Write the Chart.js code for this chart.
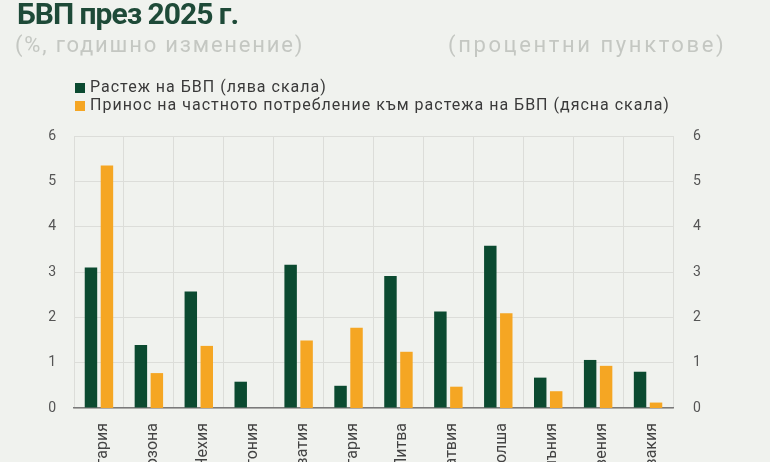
<!DOCTYPE html>
<html lang="bg">
<head>
<meta charset="utf-8">
<script src="https://cdn.jsdelivr.net/npm/chart.js@4.4.1/dist/chart.umd.min.js"></script>
<style>
  html, body { margin: 0; padding: 0; width: 770px; height: 462px; overflow: hidden; background: #f0f2ee; }
  #wrap { position: relative; width: 770px; height: 462px; }
  canvas { position: absolute; left: 0; top: 0; }
  .txt { position: absolute; white-space: nowrap; font-family: Roboto, sans-serif; }
  #title { left: 17px; top: -4px; font-size: 30px; font-weight: 700; color: #1e4a38; letter-spacing: -1px; }
  .sub { top: 32px; font-size: 22px; color: #c4c7c2; }
  #subL { left: 15px; letter-spacing: 1.8px; }
  #subR { left: 448px; letter-spacing: 2.6px; }
  .leg { left: 75px; font-size: 16px; color: #3a3a3a; letter-spacing: 1px; }
  .leg i { display: inline-block; width: 10px; height: 10px; margin-right: 5px; vertical-align: -1px; }
</style>
</head>
<body>
<div id="wrap">
  <canvas id="canvas" width="770" height="520"></canvas>
  <div id="title" class="txt">БВП през 2025 г.</div>
  <div id="subL" class="txt sub">(%, годишно изменение)</div>
  <div id="subR" class="txt sub">(процентни пунктове)</div>
  <div class="txt leg" style="top:77px"><i style="background:#0b4a30"></i>Растеж на БВП (лява скала)</div>
  <div class="txt leg" style="top:95px"><i style="background:#f5a623"></i>Принос на частното потребление към растежа на БВП (дясна скала)</div>
</div>
<script>
var countries = ['България', 'Еврозона', 'Чехия', 'Естония', 'Хърватия', 'Унгария',
                 'Литва', 'Латвия', 'Полша', 'Румъния', 'Словения', 'Словакия'];
// растеж на БВП, %
var gdpGrowth = [3.1, 1.39, 2.57, 0.58, 3.16, 0.49, 2.91, 2.13, 3.58, 0.67, 1.06, 0.8];
// принос на частното потребление, п.п.
var privateCons = [5.35, 0.77, 1.37, 0, 1.49, 1.77, 1.24, 0.47, 2.09, 0.37, 0.93, 0.12];
var yTicks = [0, 1, 2, 3, 4, 5, 6];

var tickFont = { family: 'Roboto', size: 14 };

var ctx = document.getElementById('canvas').getContext('2d');
var myChart = new Chart(ctx, {
    type: 'bar',
    data: {
        labels: countries,
        datasets: [
            {
                label: 'Растеж на БВП (лява скала)',
                data: gdpGrowth,
                backgroundColor: '#0b4a30',
                yAxisID: 'y'
            },
            {
                label: 'Принос на частното потребление към растежа на БВП (дясна скала)',
                data: privateCons,
                backgroundColor: '#f5a623',
                yAxisID: 'y1'
            }
        ]
    },
    options: {
        responsive: false,
        animation: false,
        categoryPercentage: 0.64,
        barPercentage: 0.78,
        layout: { padding: { top: 136, left: 0, right: 0, bottom: 0 } },
        plugins: {
            legend: { display: false },
            tooltip: { enabled: false }
        },
        scales: {
            x: {
                grid: { color: '#dcddd9', drawTicks: false },
                border: { color: '#7a7a7a', width: 1.5 },
                ticks: {
                    font: { family: 'Roboto', size: 16 },
                    color: '#444',
                    minRotation: 90,
                    maxRotation: 90,
                    autoSkip: false,
                    padding: 15,
                    labelOffset: 4
                },
                afterFit: function(scale) { scale.height = 520 - 408; }
            },
            y: {
                min: 0, max: 6,
                afterBuildTicks: function(scale) { scale.ticks = yTicks.map(function(v){ return { value: v }; }); },
                grid: { color: '#dcddd9', drawTicks: false },
                border: { display: false },
                ticks: { font: tickFont, color: '#555', padding: 18 },
                afterFit: function(scale) { scale.width = 74; }
            },
            y1: {
                position: 'right',
                min: 0, max: 6,
                afterBuildTicks: function(scale) { scale.ticks = yTicks.map(function(v){ return { value: v }; }); },
                grid: { display: false, drawTicks: false },
                border: { display: false },
                ticks: { font: tickFont, color: '#555', padding: 20 },
                afterFit: function(scale) { scale.width = 770 - 673; }
            }
        }
    }
});
</script>
</body>
</html>
